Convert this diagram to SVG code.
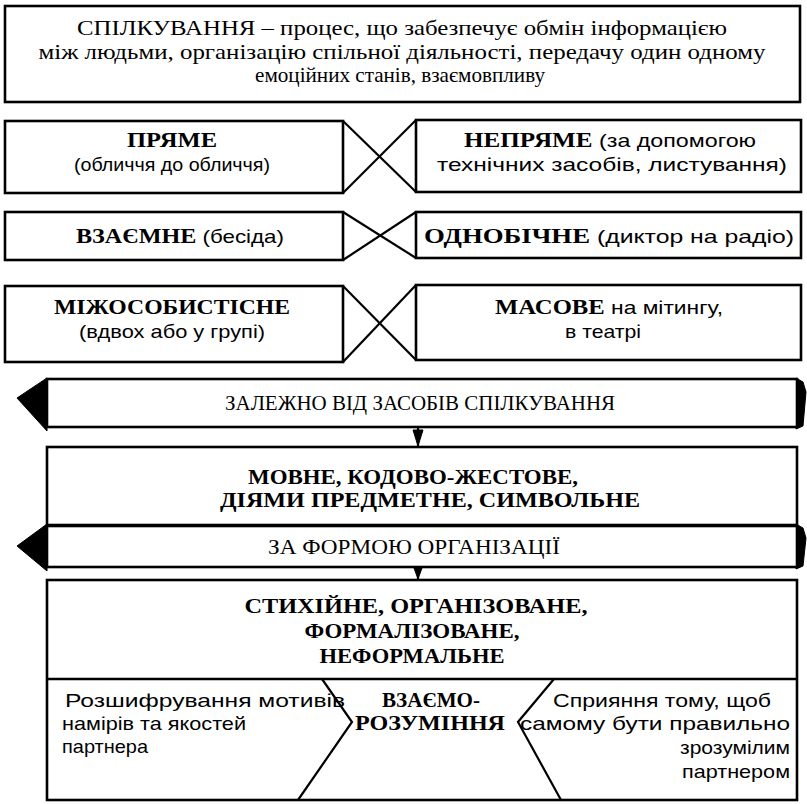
<svg xmlns="http://www.w3.org/2000/svg" width="807" height="804" viewBox="0 0 807 804">
<style>
.box{fill:#fff;stroke:#000;stroke-width:2.6}
.ln{fill:none;stroke:#000;stroke-width:2.2}
.blk{fill:#000;stroke:#000;stroke-width:1}
.ser{font-family:"Liberation Serif","DejaVu Serif",serif;font-size:21px;fill:#000;text-anchor:middle}
.serb{font-family:"Liberation Serif","DejaVu Serif",serif;font-size:20px;font-weight:bold;fill:#000;text-anchor:middle}
.sans{font-family:"Liberation Sans","DejaVu Sans",sans-serif;font-size:18.5px;fill:#000;text-anchor:middle}
.sl{font-family:"Liberation Sans","DejaVu Sans",sans-serif;font-size:18.5px;fill:#000;text-anchor:start}
.se{font-family:"Liberation Sans","DejaVu Sans",sans-serif;font-size:18.5px;fill:#000;text-anchor:end}
.b{font-family:"Liberation Serif","DejaVu Serif",serif;font-weight:bold;font-size:20px}
.n{font-family:"Liberation Sans","DejaVu Sans",sans-serif;font-size:18.5px}
</style>
<rect width="807" height="804" fill="#fff"/>

<g id="definition">
<rect class="box" x="5" y="6" width="795" height="96"/>
<text class="ser" x="402" y="35" textLength="650" lengthAdjust="spacingAndGlyphs">СПІЛКУВАННЯ – процес, що забезпечує обмін інформацією</text>
<text class="ser" x="402" y="59" textLength="727" lengthAdjust="spacingAndGlyphs">між людьми, організацію спільної діяльності, передачу один одному</text>
<text class="ser" x="400" y="82" textLength="290" lengthAdjust="spacingAndGlyphs">емоційних станів, взаємовпливу</text>
</g>

<g id="direct">
<rect class="box" x="5" y="121" width="338" height="72"/>
<text class="serb" x="172" y="147" textLength="90" lengthAdjust="spacingAndGlyphs">ПРЯМЕ</text>
<text class="sans" x="172" y="171" textLength="196" lengthAdjust="spacingAndGlyphs">(обличчя до обличчя)</text>
</g>
<g id="indirect">
<rect class="box" x="416" y="120" width="385" height="72"/>
<text x="610" y="147" text-anchor="middle" textLength="292" lengthAdjust="spacingAndGlyphs"><tspan class="b">НЕПРЯМЕ</tspan><tspan class="n"> (за допомогою</tspan></text>
<text class="sans" x="612" y="171" textLength="350" lengthAdjust="spacingAndGlyphs">технічних засобів, листування)</text>
</g>

<g id="mutual">
<rect class="box" x="5" y="212" width="338" height="48"/>
<text x="180" y="243" text-anchor="middle" textLength="208" lengthAdjust="spacingAndGlyphs"><tspan class="b">ВЗАЄМНЕ</tspan><tspan class="n"> (бесіда)</tspan></text>
</g>
<g id="onesided">
<rect class="box" x="416" y="212" width="385" height="46"/>
<text x="609" y="243" text-anchor="middle" textLength="370" lengthAdjust="spacingAndGlyphs"><tspan class="b">ОДНОБІЧНЕ</tspan><tspan class="n"> (диктор на радіо)</tspan></text>
</g>

<g id="interpersonal">
<rect class="box" x="5" y="286" width="338" height="76"/>
<text class="serb" x="172" y="314" textLength="236" lengthAdjust="spacingAndGlyphs">МІЖОСОБИСТІСНЕ</text>
<text class="sans" x="172" y="338" textLength="186" lengthAdjust="spacingAndGlyphs">(вдвох або у групі)</text>
</g>
<g id="mass">
<rect class="box" x="416" y="285" width="385" height="75"/>
<text x="609" y="314" text-anchor="middle" textLength="228" lengthAdjust="spacingAndGlyphs"><tspan class="b">МАСОВЕ</tspan><tspan class="n"> на мітингу,</tspan></text>
<text class="sans" x="603" y="338" textLength="76" lengthAdjust="spacingAndGlyphs">в театрі</text>
</g>

<g id="banner-means">
<polygon class="blk" points="47,378 17,398 47,431"/>
<polygon class="blk" points="796,378 803,382 806,392 803,426 796,429"/>
<rect class="box" x="47" y="379" width="750" height="48"/>
<text class="ser" x="420" y="410" textLength="390" lengthAdjust="spacingAndGlyphs">ЗАЛЕЖНО ВІД ЗАСОБІВ СПІЛКУВАННЯ</text>
</g>

<g id="means-types">
<rect class="box" x="47" y="447" width="750" height="78"/>
<text class="serb" x="413" y="484" textLength="330" lengthAdjust="spacingAndGlyphs">МОВНЕ, КОДОВО-ЖЕСТОВЕ,</text>
<text class="serb" x="430" y="507" textLength="420" lengthAdjust="spacingAndGlyphs">ДІЯМИ ПРЕДМЕТНЕ, СИМВОЛЬНЕ</text>
</g>

<g id="banner-form">
<polygon class="blk" points="47,524 17,546 47,571"/>
<polygon class="blk" points="796,524 803,528 806,538 803,566 796,569"/>
<rect class="box" x="47" y="526" width="750" height="41"/>
<text class="ser" x="414" y="554" textLength="292" lengthAdjust="spacingAndGlyphs">ЗА ФОРМОЮ ОРГАНІЗАЦІЇ</text>
</g>

<g id="form-types">
<rect class="box" x="47" y="580" width="750" height="220"/>
<text class="serb" x="416" y="613" textLength="343" lengthAdjust="spacingAndGlyphs">СТИХІЙНЕ, ОРГАНІЗОВАНЕ,</text>
<text class="serb" x="412" y="638" textLength="215" lengthAdjust="spacingAndGlyphs">ФОРМАЛІЗОВАНЕ,</text>
<text class="serb" x="412" y="663" textLength="185" lengthAdjust="spacingAndGlyphs">НЕФОРМАЛЬНЕ</text>
</g>

<g id="understanding">
<line class="box" x1="47" y1="679" x2="797" y2="679"/>
<text class="serb" x="431" y="707" textLength="98" lengthAdjust="spacingAndGlyphs">ВЗАЄМО-</text>
<text class="serb" x="430" y="730" textLength="150" lengthAdjust="spacingAndGlyphs">РОЗУМІННЯ</text>
</g>
<g id="decode">
<text class="sl" x="65" y="707" textLength="280" lengthAdjust="spacingAndGlyphs">Розшифрування мотивів</text>
<text class="sl" x="62" y="730" textLength="184" lengthAdjust="spacingAndGlyphs">намірів та якостей</text>
<text class="sl" x="62" y="753" textLength="86" lengthAdjust="spacingAndGlyphs">партнера</text>
</g>
<g id="promote">
<text class="sl" x="553" y="707" textLength="218" lengthAdjust="spacingAndGlyphs">Сприяння тому, щоб</text>
<text class="sl" x="520" y="730" textLength="270" lengthAdjust="spacingAndGlyphs">самому бути правильно</text>
<text class="se" x="790" y="754" textLength="110" lengthAdjust="spacingAndGlyphs">зрозумілим</text>
<text class="se" x="790" y="778" textLength="108" lengthAdjust="spacingAndGlyphs">партнером</text>
</g>

<g id="connectors">
<line class="ln" x1="343" y1="121" x2="416" y2="192"/>
<line class="ln" x1="416" y1="120" x2="343" y2="193"/>
<line class="ln" x1="343" y1="212" x2="416" y2="258"/>
<line class="ln" x1="416" y1="212" x2="343" y2="260"/>
<line class="ln" x1="343" y1="286" x2="416" y2="360"/>
<line class="ln" x1="416" y1="285" x2="343" y2="362"/>
<line class="ln" x1="418" y1="427" x2="418" y2="446"/>
<polygon class="blk" points="413,430 423,430 418,446"/>
<line class="ln" x1="418" y1="567" x2="418" y2="579"/>
<polygon class="blk" points="414,568 422,568 418,579"/>
<polyline class="ln" points="322,679 352,722 298,800"/>
<polyline class="ln" points="554,679 518,722 561,800"/>
</g>
</svg>
